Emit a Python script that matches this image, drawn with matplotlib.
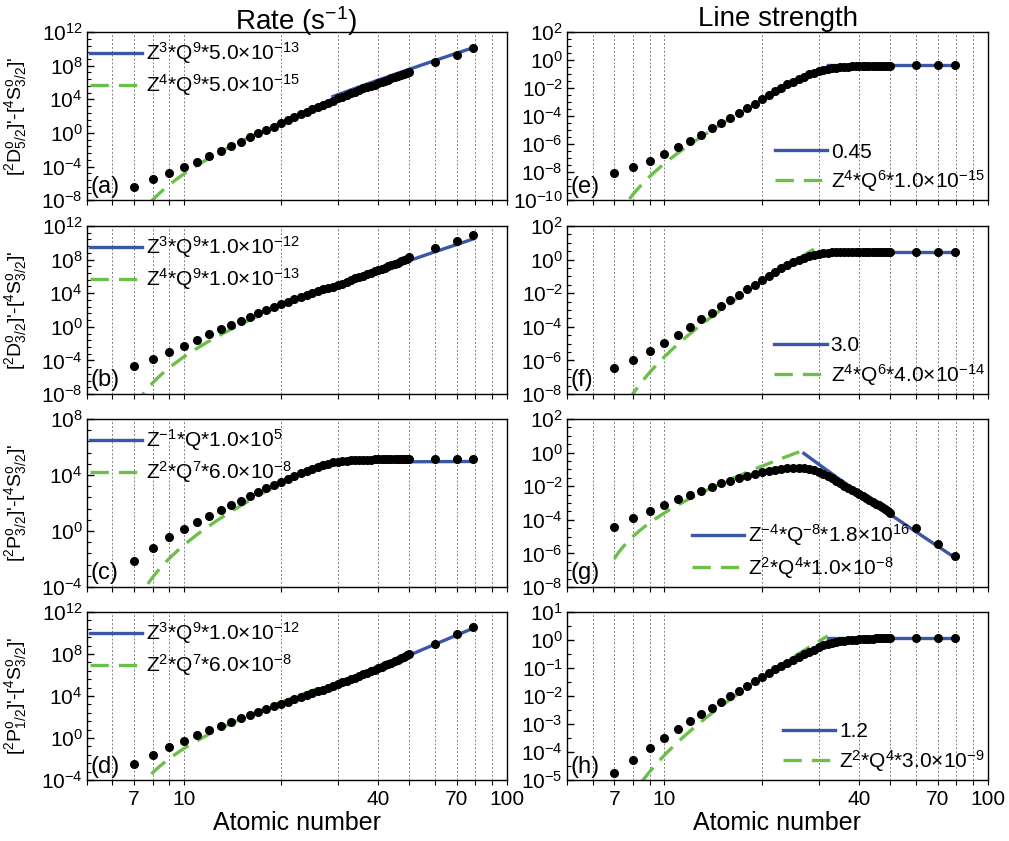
import numpy as np
import matplotlib
matplotlib.use('Agg')
import matplotlib.pyplot as plt
from matplotlib.ticker import FixedLocator, FuncFormatter, NullFormatter

plt.rcParams['font.family'] = 'Liberation Sans'
plt.rcParams['mathtext.fontset'] = 'custom'
plt.rcParams['mathtext.rm'] = 'Liberation Sans'
plt.rcParams['mathtext.it'] = 'Liberation Sans:italic'
plt.rcParams['mathtext.bf'] = 'Liberation Sans:bold'
plt.rcParams['mathtext.default'] = 'regular'

# atomic numbers of the N-like ions
Z = list(range(7, 51)) + [60, 70, 79]

# log10 of rates (s^-1)
rate_a = [-6.4, -5.5, -4.75, -4.0, -3.4, -2.75, -2.15, -1.6, -1.05, -0.5,
          0.0, 0.35, 0.75, 1.2, 1.55, 1.9, 2.2, 2.5, 2.8, 3.1,
          3.35, 3.6, 3.85, 4.1, 4.3, 4.5, 4.7, 4.9, 5.1, 5.3,
          5.45, 5.6, 5.75, 5.9, 6.05, 6.2, 6.35, 6.5, 6.6, 6.75,
          6.9, 7.0, 7.15, 7.3,
          8.5, 9.3, 10.1]
rate_b = [-4.67, -3.8, -2.95, -2.25, -1.6, -0.9, -0.3, 0.2, 0.7, 1.15,
          1.6, 2.0, 2.35, 2.7, 3.0, 3.3, 3.55, 3.8, 4.05, 4.25,
          4.45, 4.6, 4.75, 4.95, 5.15, 5.35, 5.55, 5.75, 5.9, 6.1,
          6.25, 6.45, 6.6, 6.75, 6.9, 7.05, 7.2, 7.35, 7.5, 7.65,
          7.8, 7.95, 8.1, 8.25,
          9.35, 10.25, 10.95]
rate_c = [-2.14, -1.2, -0.45, 0.14, 0.67, 1.1, 1.5, 1.86, 2.17, 2.5,
          2.76, 3.05, 3.29, 3.52, 3.73, 3.93, 4.12, 4.3, 4.46, 4.6,
          4.72, 4.82, 4.9, 4.95, 4.99, 5.02, 5.04, 5.06, 5.07, 5.08,
          5.09, 5.1, 5.11, 5.12, 5.12, 5.13, 5.13, 5.14, 5.14, 5.15,
          5.15, 5.16, 5.16, 5.17,
          5.17, 5.17, 5.15]
rate_d = [-2.51, -1.62, -0.83, -0.25, 0.29, 0.76, 1.14, 1.49, 1.87, 2.19,
          2.48, 2.76, 3.02, 3.24, 3.46, 3.68, 3.88, 4.07, 4.25, 4.43,
          4.62, 4.8, 4.97, 5.14, 5.3, 5.45, 5.6, 5.75, 5.9, 6.05,
          6.2, 6.35, 6.5, 6.63, 6.77, 6.91, 7.05, 7.19, 7.33, 7.46,
          7.6, 7.73, 7.87, 8.0,
          9.0, 9.87, 10.6]

# log10 of line strengths
ls_e = [-8.09, -7.61, -7.21, -6.71, -6.23, -5.78, -5.32, -4.87, -4.51, -4.15,
        -3.8, -3.44, -3.1, -2.8, -2.5, -2.22, -1.97, -1.74, -1.53, -1.34,
        -1.17, -1.02, -0.9, -0.8, -0.71, -0.64, -0.58, -0.54, -0.5, -0.48,
        -0.46, -0.45, -0.44, -0.43, -0.42, -0.42, -0.41, -0.41, -0.4, -0.4,
        -0.4, -0.39, -0.39, -0.39,
        -0.38, -0.38, -0.38]
ls_f = [-6.47, -5.97, -5.47, -4.95, -4.47, -4.02, -3.56, -3.16, -2.78, -2.42,
        -2.08, -1.78, -1.49, -1.23, -0.97, -0.73, -0.52, -0.33, -0.17, -0.03,
        0.1, 0.2, 0.28, 0.34, 0.38, 0.41, 0.43, 0.44, 0.45, 0.45,
        0.46, 0.46, 0.46, 0.46, 0.46, 0.46, 0.46, 0.46, 0.46, 0.46,
        0.46, 0.46, 0.46, 0.46,
        0.45, 0.45, 0.44]
ls_g = [-4.41, -3.87, -3.46, -3.12, -2.78, -2.52, -2.27, -2.03, -1.83, -1.67,
        -1.53, -1.4, -1.28, -1.18, -1.1, -1.03, -0.98, -0.94, -0.92, -0.91,
        -0.93, -0.98, -1.06, -1.16, -1.28, -1.41, -1.54, -1.68, -1.82, -1.96,
        -2.1, -2.23, -2.35, -2.47, -2.58, -2.7, -2.81, -2.92, -3.03, -3.14,
        -3.25, -3.36, -3.47, -3.58,
        -4.5, -5.42, -6.15]
ls_h = [-4.76, -4.29, -3.87, -3.49, -3.18, -2.9, -2.65, -2.42, -2.21, -2.01,
        -1.82, -1.65, -1.48, -1.32, -1.18, -1.05, -0.93, -0.82, -0.71, -0.61,
        -0.51, -0.42, -0.34, -0.26, -0.19, -0.13, -0.09, -0.06, -0.04, -0.02,
        -0.01, 0.0, 0.01, 0.02, 0.03, 0.04, 0.05, 0.05, 0.06, 0.06,
        0.07, 0.07, 0.08, 0.08,
        0.08, 0.08, 0.08]

panel_tags = ['(a)', '(b)', '(c)', '(d)', '(e)', '(f)', '(g)', '(h)']
panel_data = [rate_a, rate_b, rate_c, rate_d, ls_e, ls_f, ls_g, ls_h]

# scaling fits  Z^m * Q^n * C  with Q = Z - 6
high_zexp = [3, 3, -1, 3, 0, 0, -4, 0]
high_qexp = [9, 9, 1, 9, 0, 0, -8, 0]
high_coef = [5.0e-13, 1.0e-12, 1.0e5, 1.0e-12, 0.45, 3.0, 1.8e16, 1.2]
high_range = [(29, 79), (29, 79), (29, 79), (29, 79),
              (32, 79), (30, 79), (27, 79), (32, 79)]
low_zexp = [4, 4, 2, 2, 4, 4, 2, 2]
low_qexp = [9, 9, 7, 7, 6, 6, 4, 4]
low_coef = [5.0e-15, 1.0e-13, 6.0e-8, 6.0e-8, 1.0e-15, 4.0e-14, 1.0e-8, 3.0e-9]
low_range = [(7, 26), (7, 26), (7, 28), (7, 27),
             (7, 31), (7, 29), (7, 27), (7, 32)]

high_labels = [r'Z$^3$*Q$^9$*5.0×10$^{-13}$', r'Z$^3$*Q$^9$*1.0×10$^{-12}$',
               r'Z$^{-1}$*Q*1.0×10$^5$', r'Z$^3$*Q$^9$*1.0×10$^{-12}$',
               '0.45', '3.0', r'Z$^{-4}$*Q$^{-8}$*1.8×10$^{16}$', '1.2']
low_labels = [r'Z$^4$*Q$^9$*5.0×10$^{-15}$', r'Z$^4$*Q$^9$*1.0×10$^{-13}$',
              r'Z$^2$*Q$^7$*6.0×10$^{-8}$', r'Z$^2$*Q$^7$*6.0×10$^{-8}$',
              r'Z$^4$*Q$^6$*1.0×10$^{-15}$', r'Z$^4$*Q$^6$*4.0×10$^{-14}$',
              r'Z$^2$*Q$^4$*1.0×10$^{-8}$', r'Z$^2$*Q$^4$*3.0×10$^{-9}$']

ylabels = [r"[$^2$D$^{\rm o}_{5/2}$]'-[$^4$S$^{\rm o}_{3/2}$]'",
           r"[$^2$D$^{\rm o}_{3/2}$]'-[$^4$S$^{\rm o}_{3/2}$]'",
           r"[$^2$P$^{\rm o}_{3/2}$]'-[$^4$S$^{\rm o}_{3/2}$]'",
           r"[$^2$P$^{\rm o}_{1/2}$]'-[$^4$S$^{\rm o}_{3/2}$]'"]

# y ranges as (lowest exponent, highest exponent, step between labels, minor ticks per step)
y_ranges = [(-8, 12, 4, 4), (-8, 12, 4, 4), (-4, 8, 4, 4), (-4, 12, 4, 4),
            (-10, 2, 2, 3), (-8, 2, 2, 3), (-8, 2, 2, 3), (-5, 1, 1, 1)]

x_labeled = [7, 10, 40, 70, 100]
x_minor = [5, 6, 8, 9, 20, 30, 50, 60, 80, 90]

BLUE = '#3b56a6'
GREEN = '#6cc04a'

fig = plt.figure(figsize=(10.09, 8.41), dpi=100)
col_x = [0.086, 0.562]
col_w = [0.416, 0.417]
row_y = [0.762, 0.5315, 0.302, 0.0725]
row_h = 0.1998


def fit_curve(z, zexp, qexp, coef):
    q = z - 6.0
    return z ** zexp * q ** qexp * coef


for i in range(8):
    col, row = divmod(i, 4)
    ax = fig.add_axes([col_x[col], row_y[row], col_w[col], row_h])
    ax.set_xscale('log')
    ax.set_yscale('log')

    zl = np.linspace(low_range[i][0], low_range[i][1], 400)
    zh = np.linspace(high_range[i][0], high_range[i][1], 400)
    ax.plot(zh, fit_curve(zh, high_zexp[i], high_qexp[i], high_coef[i]),
            color=BLUE, lw=2.4, label=high_labels[i], zorder=2)
    ax.plot(zl, fit_curve(zl, low_zexp[i], low_qexp[i], low_coef[i]),
            color=GREEN, lw=2.4, ls=(0, (5.5, 3)), label=low_labels[i], zorder=2)
    ax.plot(Z, 10.0 ** np.array(panel_data[i]), 'o', color='black', ms=5.5,
            mec='black', ls='none', zorder=3)

    lo, hi, step, nminor = y_ranges[i]
    ax.set_xlim(5, 100)
    ax.set_ylim(10.0 ** lo, 10.0 ** hi)

    majors = np.arange(lo, hi + 1, step)
    minors = [m + step * k / (nminor + 1) for m in majors[:-1] for k in range(1, nminor + 1)]
    ax.yaxis.set_major_locator(FixedLocator(10.0 ** majors))
    ax.yaxis.set_minor_locator(FixedLocator(10.0 ** np.array(minors)))
    ax.yaxis.set_major_formatter(FuncFormatter(lambda v, p: r'$10^{%d}$' % round(np.log10(v))))
    ax.yaxis.set_minor_formatter(NullFormatter())

    ax.xaxis.set_major_locator(FixedLocator(x_labeled))
    ax.xaxis.set_minor_locator(FixedLocator(x_minor))
    ax.xaxis.set_major_formatter(FuncFormatter(lambda v, p: '%d' % v))
    ax.xaxis.set_minor_formatter(NullFormatter())

    ax.grid(True, which='both', axis='x', color='0.5', lw=0.7, ls=(0, (2, 2)))
    ax.tick_params(axis='y', which='both', direction='in', labelsize=15, pad=3)
    ax.tick_params(axis='y', which='major', length=5, width=1)
    ax.tick_params(axis='y', which='minor', length=3, width=0.8)
    ax.tick_params(axis='x', which='both', direction='out', length=3.5, width=0.8,
                   labelsize=15, pad=4)
    if row < 3:
        ax.tick_params(axis='x', labelbottom=False)
    else:
        ax.set_xlabel('Atomic number', fontsize=18, labelpad=1)

    for sp in ax.spines.values():
        sp.set_linewidth(1.0)

    ax.text(0.008, 0.015, panel_tags[i], transform=ax.transAxes,
            ha='left', va='bottom', fontsize=17)

    if col == 0:
        ax.set_ylabel(ylabels[row], fontsize=14)
        ax.yaxis.set_label_coords(-0.138, 0.5)
        ax.legend(loc='upper left', bbox_to_anchor=(0.0, 0.97), frameon=False,
                  fontsize=15, handlelength=2.5, handletextpad=0.2,
                  borderpad=0.15, borderaxespad=0.0, labelspacing=0.3)
    elif row == 2:
        ax.legend(loc='lower left', bbox_to_anchor=(0.29, 0.02), frameon=False,
                  fontsize=15, handlelength=2.5, handletextpad=0.2,
                  borderpad=0.15, borderaxespad=0.0, labelspacing=0.3)
    else:
        ax.legend(loc='lower right', bbox_to_anchor=(1.0, 0.02), frameon=False,
                  fontsize=15, handlelength=2.5, handletextpad=0.2,
                  borderpad=0.15, borderaxespad=0.0, labelspacing=0.3)

fig.text(0.2935, 0.964, r'Rate (s$^{-1}$)', ha='center', va='baseline', fontsize=20)
fig.text(0.7706, 0.969, 'Line strength', ha='center', va='baseline', fontsize=20)

fig.savefig('out.png', dpi=100)
